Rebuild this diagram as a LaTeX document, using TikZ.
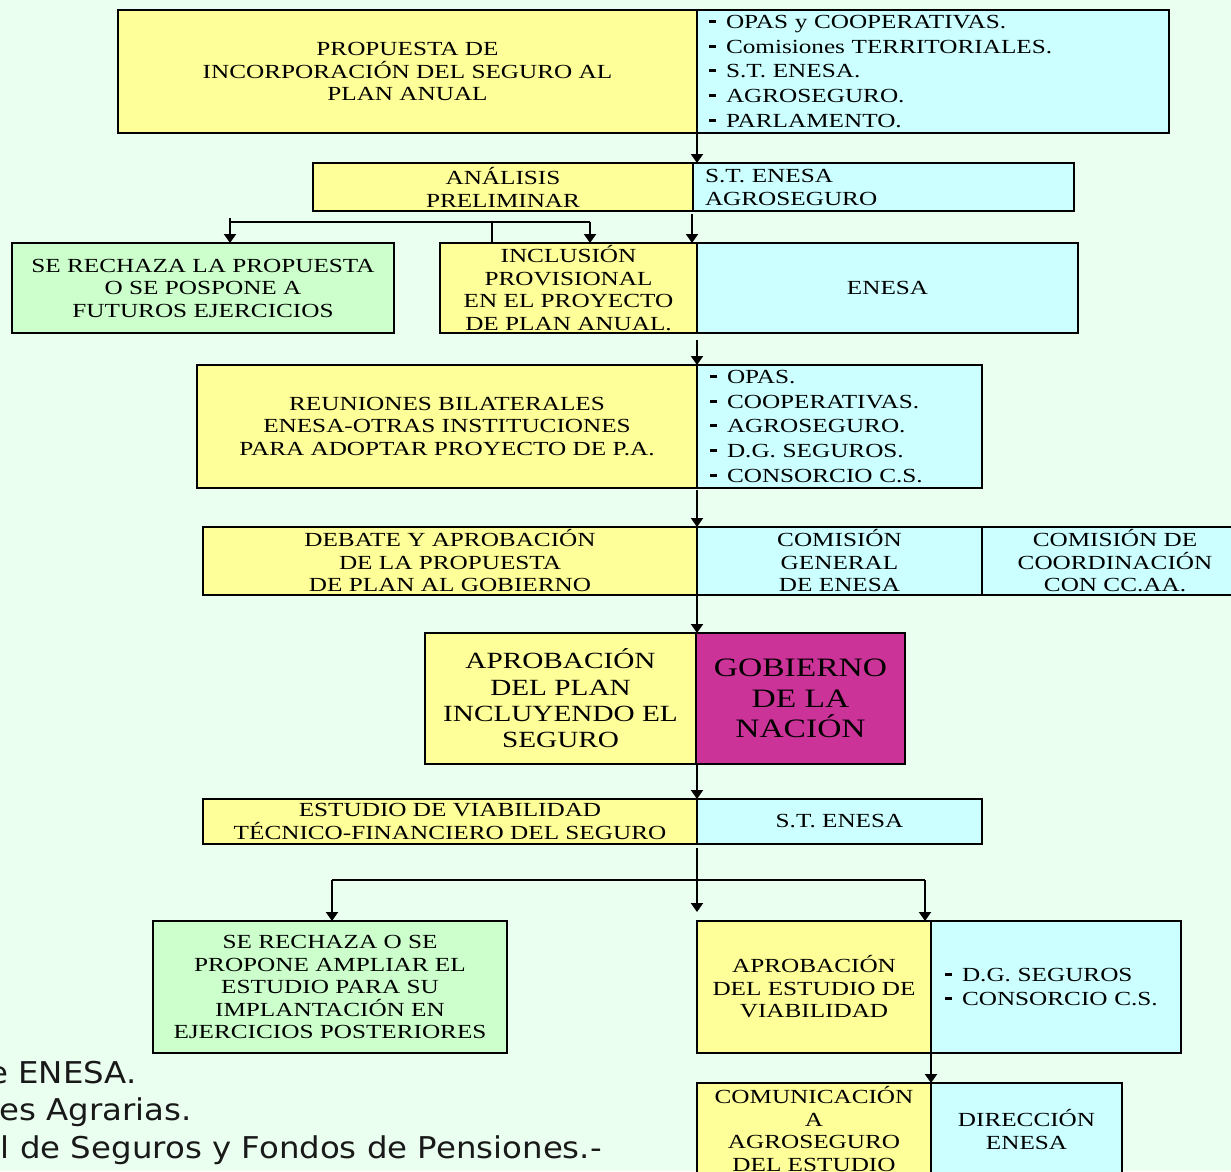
\documentclass[tikz,border=0pt]{standalone}
\usepackage{fontspec}
\setmainfont[FakeStretch=1.26]{Liberation Serif}
\newfontfamily\djsans[FakeStretch=1.08]{DejaVu Sans}
\usetikzlibrary{arrows.meta}
\definecolor{bgc}{RGB}{234,255,240}
\definecolor{yel}{RGB}{255,255,153}
\definecolor{cya}{RGB}{204,255,255}
\definecolor{grn}{RGB}{204,255,204}
\definecolor{mag}{RGB}{204,51,153}
\newcommand{\dsh}{\rule[5.5pt]{6.5pt}{3pt}\hspace{10.5pt}}
\begin{document}
\begin{tikzpicture}[x=1pt,y=-1pt,
 box/.style={draw=black, line width=1.5pt, rectangle, anchor=north west, inner sep=0pt, outer sep=0pt, align=center, font=\fontsize{20}{22.5}\selectfont},
 lst/.style={box, align=left, inner xsep=12pt, font=\fontsize{20}{24.75}\selectfont},
 arr/.style={line width=2pt, -{Triangle[length=9pt,width=12pt]}},
 ln/.style={line width=2pt},
 foot/.style={anchor=base east, inner sep=0pt, text=black!90, font=\djsans\fontsize{30}{38}\selectfont}]
\useasboundingbox (0,0) rectangle (1231,1171);
\clip (0,0) rectangle (1231,1171);
\fill[bgc] (0,0) rectangle (1231,1171);

% row 1
\node[box, fill=yel, minimum width=579pt, minimum height=123pt] (b1l) at (118,10) {PROPUESTA DE\\INCORPORACIÓN DEL SEGURO AL\\PLAN ANUAL};
\node[lst, fill=cya, minimum width=472pt, text width=448pt, minimum height=123pt] (b1r) at (697,10) {\dsh OPAS y COOPERATIVAS.\\\dsh Comisiones TERRITORIALES.\\\dsh S.T. ENESA.\\\dsh AGROSEGURO.\\\dsh PARLAMENTO.};

% row 2
\node[box, fill=yel, minimum width=380pt, minimum height=48pt, font=\fontsize{20}{23}\selectfont] (b2l) at (313,163) {ANÁLISIS\\PRELIMINAR};
\node[lst, fill=cya, minimum width=381pt, text width=357pt, minimum height=48pt, font=\fontsize{20}{23}\selectfont] (b2r) at (693,163) {S.T. ENESA\\AGROSEGURO};

% row 3
\node[box, fill=grn, minimum width=382pt, minimum height=90pt] (gr1) at (12,243) {SE RECHAZA LA PROPUESTA\\O SE POSPONE A\\FUTUROS EJERCICIOS};
\node[box, fill=yel, minimum width=257pt, minimum height=90pt] (b3l) at (440,243) {INCLUSIÓN\\PROVISIONAL\\EN EL PROYECTO\\DE PLAN ANUAL.};
\node[box, fill=cya, minimum width=381pt, minimum height=90pt] (b3r) at (697,243) {ENESA};

% row 4
\node[box, fill=yel, minimum width=500pt, minimum height=123pt] (b4l) at (197,365) {REUNIONES BILATERALES\\ENESA-OTRAS INSTITUCIONES\\PARA ADOPTAR PROYECTO DE P.A.};
\node[lst, fill=cya, minimum width=285pt, inner xsep=13pt, text width=259pt, minimum height=123pt] (b4r) at (697,365) {\dsh OPAS.\\\dsh COOPERATIVAS.\\\dsh AGROSEGURO.\\\dsh D.G. SEGUROS.\\\dsh CONSORCIO C.S.};

% row 5
\node[box, fill=yel, minimum width=494pt, minimum height=68pt] (b5l) at (203,527) {DEBATE Y APROBACIÓN\\DE LA PROPUESTA\\DE PLAN AL GOBIERNO};
\node[box, fill=cya, minimum width=285pt, minimum height=68pt] (b5m) at (697,527) {COMISIÓN\\GENERAL\\DE ENESA};
\node[box, fill=cya, minimum width=266pt, minimum height=68pt] (b5r) at (982,527) {COMISIÓN DE\\COORDINACIÓN\\CON CC.AA.};

% row 6
\node[box, fill=yel, minimum width=271pt, minimum height=131pt, font=\fontsize{23.2}{26.3}\selectfont] (b6l) at (425,633) {APROBACIÓN\\DEL PLAN\\INCLUYENDO EL\\SEGURO};
\node[box, fill=mag, minimum width=209pt, minimum height=131pt, font=\fontsize{26.6}{30.5}\selectfont] (b6r) at (696,633) {GOBIERNO\\DE LA\\NACIÓN};

% row 7
\node[box, fill=yel, minimum width=494pt, minimum height=45pt] (b7l) at (203,799) {ESTUDIO DE VIABILIDAD\\TÉCNICO-FINANCIERO DEL SEGURO};
\node[box, fill=cya, minimum width=285pt, minimum height=45pt] (b7r) at (697,799) {S.T. ENESA};

% row 8
\node[box, fill=grn, minimum width=354pt, minimum height=132pt] (gr2) at (153,921) {SE RECHAZA O SE\\PROPONE AMPLIAR EL\\ESTUDIO PARA SU\\IMPLANTACIÓN EN\\EJERCICIOS POSTERIORES};
\node[box, fill=yel, minimum width=234pt, minimum height=132pt] (b8l) at (697,921) {APROBACIÓN\\DEL ESTUDIO DE\\VIABILIDAD};
\node[lst, fill=cya, minimum width=250pt, inner xsep=14pt, text width=222pt, minimum height=132pt, font=\fontsize{20}{24}\selectfont] (b8r) at (931,921) {\dsh D.G. SEGUROS\\\dsh CONSORCIO C.S.};

% row 9 (cut off by the lower edge, as in the reference)
\node[box, fill=yel, minimum width=234pt, minimum height=92pt] (b9l) at (697,1083) {COMUNICACIÓN\\A\\AGROSEGURO\\DEL ESTUDIO};
\node[box, fill=cya, minimum width=191pt, minimum height=93pt] (b9r) at (931,1083) {DIRECCIÓN\\ENESA};

% connectors
\draw[arr] (b1l.south east) -- (b1l.south east |- b2l.north);
\coordinate (brL) at (230,222);
\coordinate (brM) at (492,222);
\coordinate (brR) at (590,222);
\draw[ln] (brL) -- (brR);
\draw[arr] ([yshift=4pt]brL) -- (brL |- gr1.north);
\draw[arr] (brR) -- (brR |- b3l.north);
\draw[ln] (brM) -- (brM |- b3l.north);
\draw[arr] ([xshift=-1pt,yshift=-3pt]b2l.south east) -- ([xshift=-1pt]b2l.south east |- b3l.north);
\draw[arr] ([yshift=-7pt]b3l.south east) -- (b4l.north east);
\draw[arr] ([yshift=-2pt]b4l.south east) -- (b4l.south east |- b5l.north);
\draw[arr] (b5l.south east) -- (b5l.south east |- b6l.north);
\draw[arr] (b7l.north east |- b6l.south) -- (b7l.north east);
\coordinate (midtip) at (697,912);
\draw[arr] ([yshift=-4pt]b7l.south east) -- (midtip);
\coordinate (spL) at (332,880);
\coordinate (spR) at (925,880);
\draw[ln] (spL) -- (spR);
\draw[arr] (spL) -- (spL |- gr2.north);
\draw[arr] (spR) -- (spR |- b8l.north);
\draw[arr] (b8l.south east) -- (b8l.south east |- b9l.north);

% footer fragments
\node[foot] (f1) at (137,1083) {e ENESA.};
\node[foot] (f2) at (192,1120) {es Agrarias.};
\node[foot] (f3) at (602,1158) {l de Seguros y Fondos de Pensiones.-};
\end{tikzpicture}
\end{document}
